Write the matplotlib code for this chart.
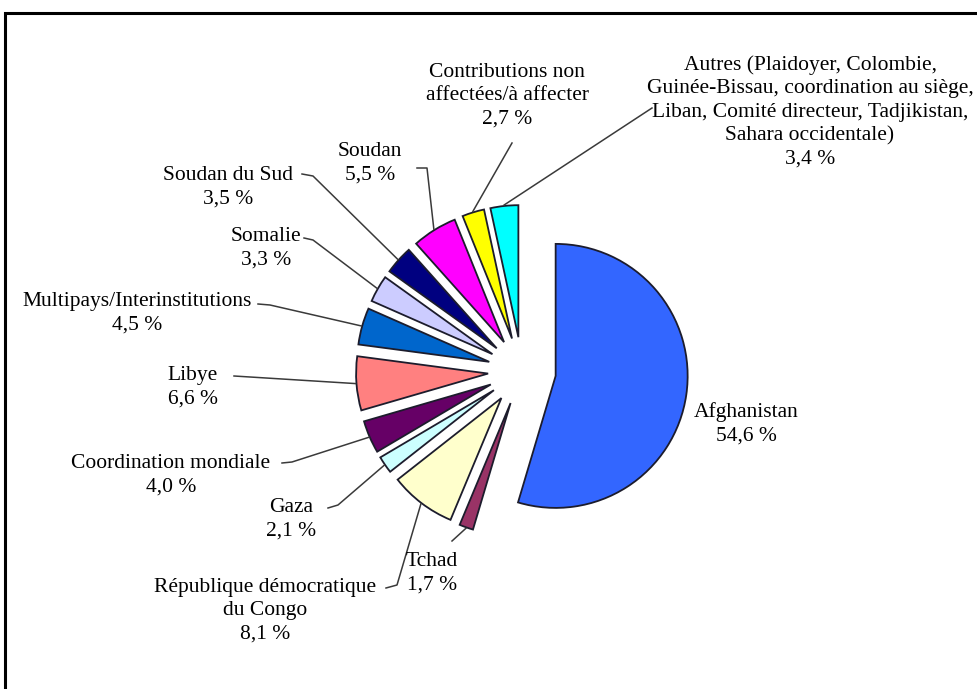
import matplotlib
matplotlib.use("Agg")
import matplotlib.pyplot as plt
from matplotlib.patches import Rectangle
import numpy as np

# --- DATA ---
labels = ["Afghanistan", "Tchad", "République démocratique\ndu Congo", "Gaza",
          "Coordination mondiale", "Libye", "Multipays/Interinstitutions",
          "Somalie", "Soudan du Sud", "Soudan",
          "Contributions non\naffectées/à affecter",
          "Autres (Plaidoyer, Colombie,\nGuinée-Bissau, coordination au siège,\n"
          "Liban, Comité directeur, Tadjikistan,\nSahara occidentale)"]
shares = [54.6, 1.7, 8.1, 2.1, 4.0, 6.6, 4.5, 3.3, 3.5, 5.5, 2.7, 3.4]
colors = ["#3366ff", "#993366", "#ffffcc", "#ccffff", "#660066", "#ff8080",
          "#0066cc", "#ccccff", "#000080", "#ff00ff", "#ffff00", "#00ffff"]

# --- LAYOUT (pixel coords, y from top) ---
W, H = 978, 689
center_px = (522, 371)
radius_px = 132
explode_px = 34   # matplotlib explode is in data units, not radius fractions
label_xy = [(746, 424), (432, 573), (265, 611), (291, 519), (171, 475),
            (193, 387), (137, 313), (266, 248), (228, 187), (370, 163),
            (507, 96), (810, 112)]
leader_start = [None, (452, 541), (386, 588), (328, 508), (282, 463),
                (234, 376), (258, 304), (304, 238), (302, 174), (417, 168),
                (512, 143), (652, 108)]
leader_elbow = [None, None, (397, 585), (338, 505), (292, 462),
                None, (270, 305), (313, 240), (313, 176), (427, 168),
                None, None]

fig = plt.figure(figsize=(W / 100, H / 100), dpi=100)
ax = fig.add_axes([0, 0, 1, 1])

wedges, _ = ax.pie(shares, colors=colors, startangle=90, counterclock=False,
                   explode=[explode_px] * len(shares), radius=radius_px,
                   center=(center_px[0], H - center_px[1]),
                   wedgeprops=dict(edgecolor="#1c1c2c", linewidth=1.3))

ax.set_xlim(0, W)
ax.set_ylim(0, H)
ax.set_aspect("equal")
ax.axis("off")

font = dict(family=["Liberation Serif", "DejaVu Serif"], size=15.5)

for i, w in enumerate(wedges):
    txt = f"{labels[i]}\n{shares[i]:.1f} %".replace(".", ",")
    x, y = label_xy[i]
    ax.text(x, H - y, txt, ha="center", va="center", multialignment="center",
            linespacing=1.32, **font)

    if leader_start[i] is None:
        continue
    # end of leader: outer arc at the middle angle of the exploded wedge
    mid = np.deg2rad((w.theta1 + w.theta2) / 2)
    cx, cy = w.center
    ex = cx + (w.r + 1) * np.cos(mid)
    ey = cy + (w.r + 1) * np.sin(mid)
    pts = [leader_start[i]]
    if leader_elbow[i] is not None:
        pts.append(leader_elbow[i])
    xs = [p[0] for p in pts] + [ex]
    ys = [H - p[1] for p in pts] + [ey]
    ax.plot(xs, ys, color="#3a3a3a", linewidth=1.1)

# outer frame, cut by the right and bottom edges
ax.add_patch(Rectangle((5, -20), 1100, H - 13 + 20, fill=False,
                       edgecolor="black", linewidth=2.2, clip_on=False))

plt.savefig("out.png", dpi=100)
